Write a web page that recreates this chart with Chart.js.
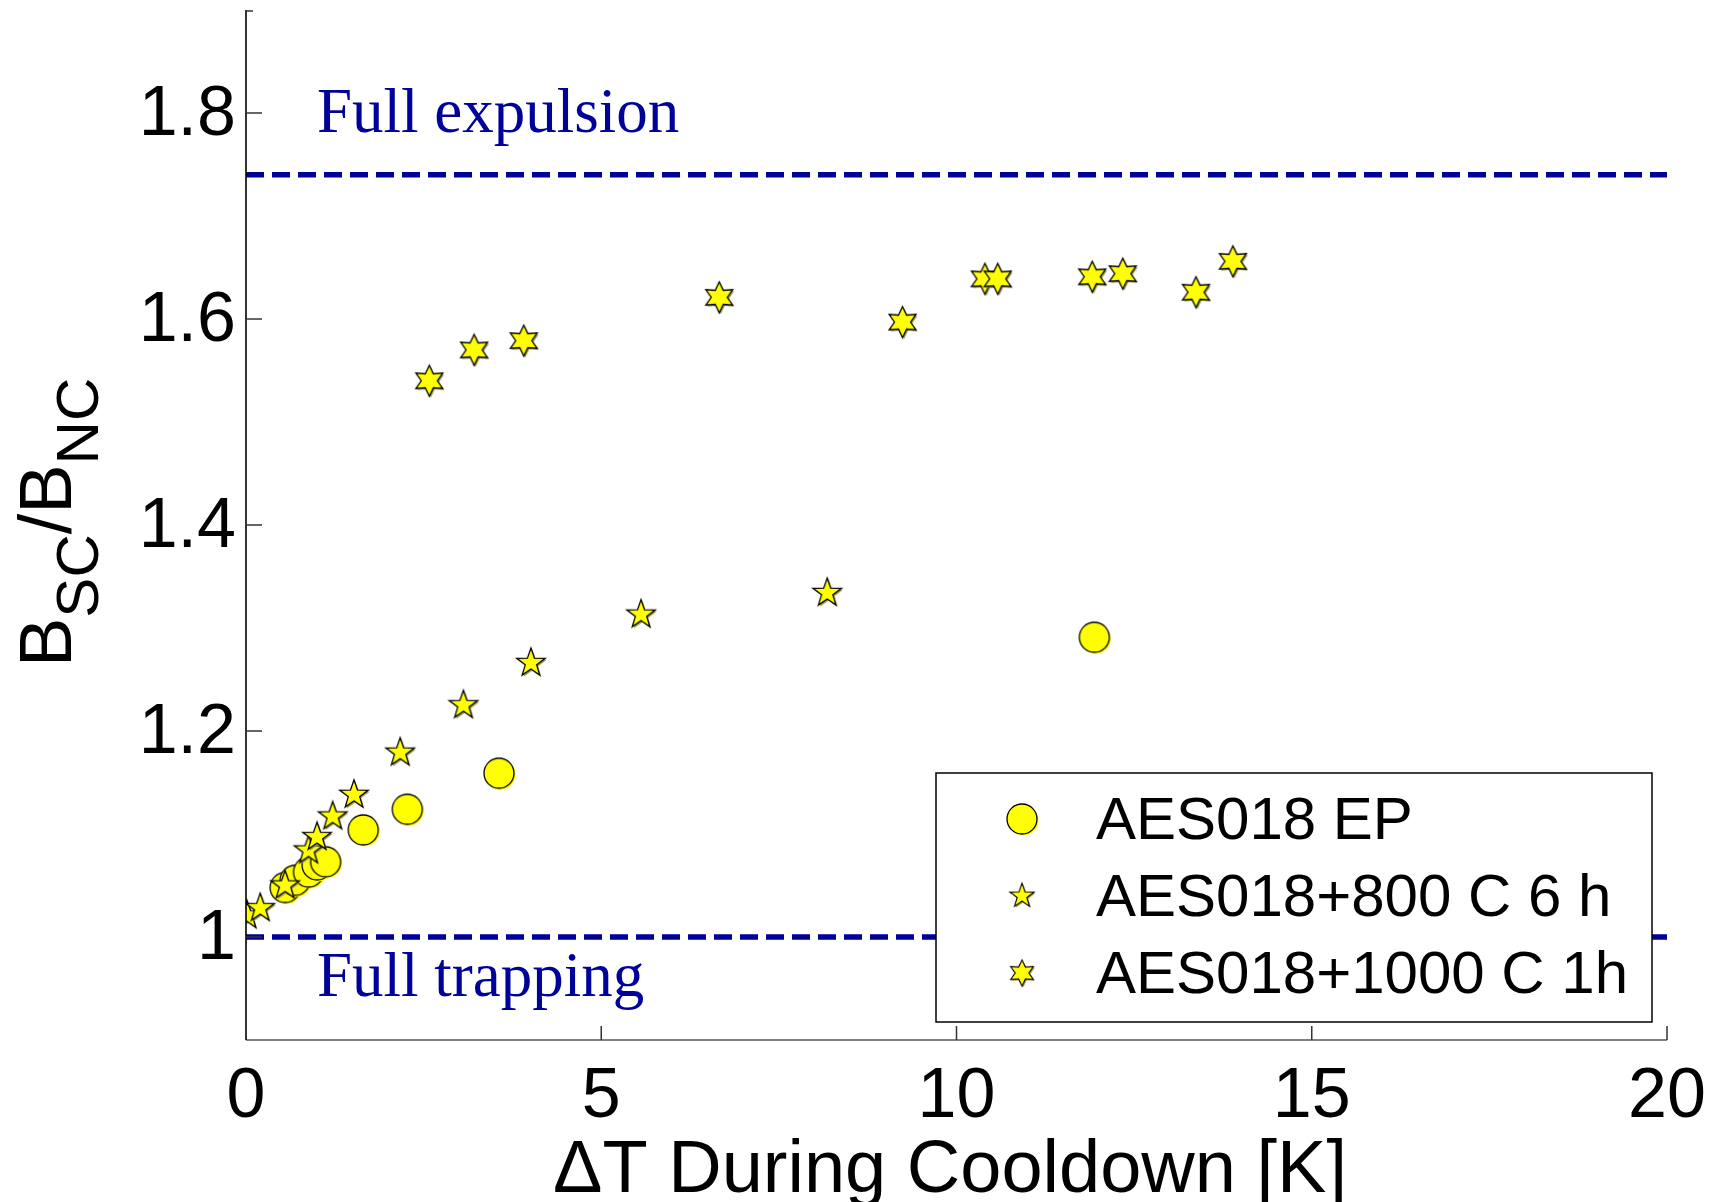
<!DOCTYPE html>
<html>
<head>
<meta charset="utf-8">
<title>Flux expulsion ratio vs. cooldown ΔT</title>
<script src="https://cdn.jsdelivr.net/npm/chart.js@4/dist/chart.umd.min.js"></script>
<style>
  html, body { margin: 0; padding: 0; background: #fff; }
  canvas { display: block; }
</style>
</head>
<body>
<canvas id="ratioChart" width="1723" height="1202"></canvas>
<script>
// measured points, one pair of arrays per cavity treatment
const epX = [0.55, 0.69, 0.88, 1.00, 1.12, 1.65, 2.27, 3.56, 11.94];
const epY = [1.048, 1.055, 1.063, 1.070, 1.073, 1.104, 1.124, 1.159, 1.291];

const t800X = [0.014, 0.20, 0.55, 0.88, 1.00, 1.22, 1.52, 2.17, 3.06, 4.01, 5.56, 8.18];
const t800Y = [1.021, 1.028, 1.050, 1.084, 1.097, 1.117, 1.138, 1.179, 1.225, 1.266, 1.313, 1.334];

const t1000X = [2.58, 3.21, 3.91, 6.66, 9.24, 10.40, 10.58, 11.91, 12.34, 13.37, 13.89];
const t1000Y = [1.540, 1.570, 1.579, 1.621, 1.597, 1.639, 1.639, 1.641, 1.644, 1.626, 1.656];

const seriesLabels = ['AES018 EP', 'AES018+800 C 6 h', 'AES018+1000 C 1h'];

// reference levels: full expulsion / full trapping
const limitLevels = [1.74, 1.0];
const limitLabels = ['Full expulsion', 'Full trapping'];

const xTicks = [0, 5, 10, 15, 20];
const yTicks = [1, 1.2, 1.4, 1.6, 1.8];
const xRange = [0, 20];
const yRange = [0.9, 1.9];

const pts = (xs, ys) => xs.map((x, i) => ({ x: x, y: ys[i] }));

// yellow markers with black outline, drawn once onto small canvases
function makeMarker(kind, r) {
  const pad = 4;
  const c = document.createElement('canvas');
  c.width = c.height = Math.ceil(2 * (r + pad));
  const g = c.getContext('2d');
  const cx = c.width / 2, cy = c.height / 2;
  const path = new Path2D();
  if (kind === 'circle') {
    path.arc(cx, cy, r, 0, Math.PI * 2);
  } else {
    const n = kind === 'star5' ? 5 : 6;
    const inner = kind === 'star5' ? r * 0.4 : r * 0.52;
    for (let i = 0; i < 2 * n; i++) {
      const a = -Math.PI / 2 + i * Math.PI / n;
      const rr = i % 2 ? inner : r;
      const px = cx + rr * Math.cos(a), py = cy + rr * Math.sin(a);
      if (i === 0) path.moveTo(px, py); else path.lineTo(px, py);
    }
    path.closePath();
  }
  g.save();
  g.translate(1.5, 1.5);
  g.fillStyle = kind === 'circle' ? '#ffff00' : '#9a9a60';
  g.fill(path);
  g.restore();
  g.fillStyle = '#ffff00';
  g.fill(path);
  g.lineWidth = 1.3;
  g.strokeStyle = '#000';
  g.stroke(path);
  return c;
}

const circleMarker = makeMarker('circle', 15);
const star5Marker = makeMarker('star5', 15);
const star6Marker = makeMarker('star6', 15.5);
const markers = [circleMarker, star5Marker, star6Marker];

const NAVY = '#00009a';

const framePlugin = {
  id: 'frame',
  afterDatasetsDraw(chart) {
    const ctx = chart.ctx;
    const xs = chart.scales.x, ys = chart.scales.y;
    const area = chart.chartArea;
    ctx.save();

    // axis lines
    ctx.lineWidth = 2;
    ctx.strokeStyle = '#808080';
    ctx.beginPath();
    ctx.moveTo(area.left, area.bottom);
    ctx.lineTo(area.right, area.bottom);
    ctx.stroke();
    ctx.strokeStyle = '#000';
    ctx.lineWidth = 1.6;
    ctx.beginPath();
    ctx.moveTo(area.left, area.top);
    ctx.lineTo(area.left, area.bottom);
    ctx.stroke();

    // inward tick marks
    ctx.lineWidth = 1.5;
    ctx.strokeStyle = '#333';
    yTicks.forEach(v => {
      const y = ys.getPixelForValue(v);
      ctx.beginPath();
      ctx.moveTo(area.left, y);
      ctx.lineTo(area.left + 16, y);
      ctx.stroke();
    });
    ctx.beginPath();
    ctx.moveTo(area.left, area.top + 1);
    ctx.lineTo(area.left + 7, area.top + 1);
    ctx.stroke();
    xTicks.forEach(v => {
      const x = xs.getPixelForValue(v);
      ctx.beginPath();
      ctx.moveTo(x, area.bottom);
      ctx.lineTo(x, area.bottom - 14);
      ctx.stroke();
    });

    // tick labels
    ctx.fillStyle = '#000';
    ctx.font = '70px "Liberation Sans", Arial, sans-serif';
    ctx.textAlign = 'right';
    ctx.textBaseline = 'middle';
    yTicks.forEach(v => {
      ctx.fillText(String(v), area.left - 10, ys.getPixelForValue(v) + 3);
    });
    ctx.textAlign = 'center';
    ctx.textBaseline = 'alphabetic';
    xTicks.forEach(v => {
      ctx.fillText(String(v), xs.getPixelForValue(v), area.bottom + 77);
    });

    // x axis title
    ctx.font = '74px "Liberation Sans", Arial, sans-serif';
    ctx.fillText('\u0394T During Cooldown [K]', 950, 1192);

    // y axis title with subscripts, rotated
    ctx.save();
    ctx.translate(71, 667);
    ctx.rotate(-Math.PI / 2);
    ctx.textAlign = 'left';
    const mainFont = '74px "Liberation Sans", Arial, sans-serif';
    const subFont = '60px "Liberation Sans", Arial, sans-serif';
    const parts = [['B', 0, mainFont], ['SC', 27, subFont], ['/', 0, mainFont], ['B', 0, mainFont], ['NC', 27, subFont]];
    let cx = 0;
    parts.forEach(([t, dy, f]) => {
      ctx.font = f;
      ctx.fillText(t, cx, dy);
      cx += ctx.measureText(t).width;
    });
    ctx.restore();

    // reference level captions
    ctx.fillStyle = NAVY;
    ctx.textAlign = 'left';
    ctx.font = '63px "Liberation Serif", "Times New Roman", serif';
    ctx.fillText(limitLabels[0], 317, 132);
    ctx.fillText(limitLabels[1], 317, 996);

    // legend box
    const lx = 936, ly = 773, lw = 716, lh = 249;
    ctx.fillStyle = '#fff';
    ctx.fillRect(lx, ly, lw, lh);
    ctx.strokeStyle = '#000';
    ctx.lineWidth = 1.5;
    ctx.strokeRect(lx, ly, lw, lh);
    const rows = [819, 896, 973];
    ctx.font = '60px "Liberation Sans", Arial, sans-serif';
    ctx.textBaseline = 'middle';
    ctx.fillStyle = '#000';
    seriesLabels.forEach((label, i) => {
      const m = markers[i];
      const s = i === 0 ? 1 : 0.85;
      ctx.drawImage(m, 1022 - m.width * s / 2, rows[i] - m.height * s / 2, m.width * s, m.height * s);
      ctx.fillText(label, 1096, rows[i] + 3);
    });

    ctx.restore();
  }
};

new Chart(document.getElementById('ratioChart').getContext('2d'), {
  type: 'scatter',
  data: {
    datasets: [
      { label: seriesLabels[0], data: pts(epX, epY), pointStyle: circleMarker, order: 3 },
      { label: seriesLabels[1], data: pts(t800X, t800Y), pointStyle: star5Marker, order: 2 },
      { label: seriesLabels[2], data: pts(t1000X, t1000Y), pointStyle: star6Marker, order: 1 },
      {
        type: 'line', label: limitLabels[0], order: 4,
        data: [{ x: xRange[0], y: limitLevels[0] }, { x: xRange[1], y: limitLevels[0] }],
        borderColor: NAVY, borderWidth: 5.5, borderDash: [18, 8], pointRadius: 0
      },
      {
        type: 'line', label: limitLabels[1], order: 4,
        data: [{ x: xRange[0], y: limitLevels[1] }, { x: xRange[1], y: limitLevels[1] }],
        borderColor: NAVY, borderWidth: 5.5, borderDash: [18, 8], pointRadius: 0
      }
    ]
  },
  options: {
    responsive: false,
    animation: false,
    events: [],
    layout: { padding: { left: 246, right: 56, top: 10, bottom: 162 } },
    scales: {
      x: { type: 'linear', display: false, min: xRange[0], max: xRange[1] },
      y: { type: 'linear', display: false, min: yRange[0], max: yRange[1] }
    },
    plugins: {
      legend: { display: false },
      tooltip: { enabled: false }
    }
  },
  plugins: [framePlugin]
});
</script>
</body>
</html>
